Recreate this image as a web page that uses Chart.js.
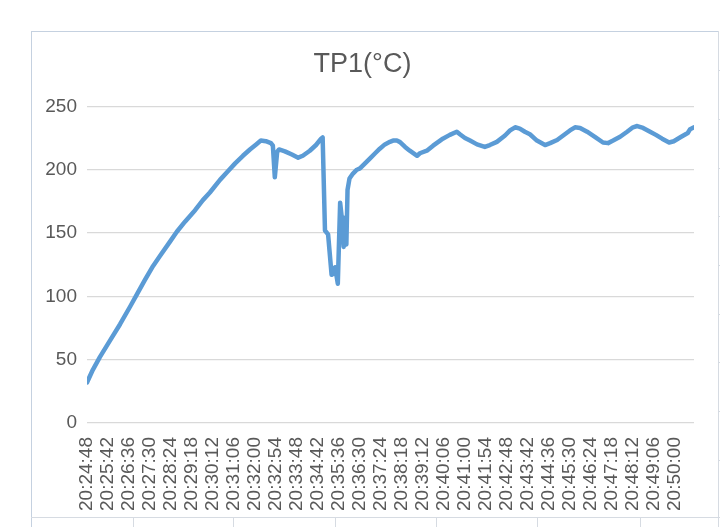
<!DOCTYPE html>
<html>
<head>
<meta charset="utf-8">
<script src="https://cdn.jsdelivr.net/npm/chart.js@4.4.1/dist/chart.umd.min.js"></script>
<style>
  html, body { margin: 0; padding: 0; background: #ffffff; }
  body { width: 720px; height: 527px; position: relative; overflow: hidden; }
  .ln { position: absolute; background: #d6dbe2; }
  #frame { position: absolute; left: 31px; top: 31px; width: 687px; height: 486px; }
</style>
</head>
<body>
<div class="ln" style="left:31px;top:31px;width:1px;height:496px;background:#c5d1e0"></div>
<div class="ln" style="left:31px;top:31px;width:688px;height:1px;background:#c5d1e0"></div>
<div class="ln" style="left:718px;top:31px;width:1px;height:496px;"></div>
<div class="ln" style="left:31px;top:517px;width:689px;height:1px;"></div>
<div class="ln" style="left:133px;top:517px;width:1px;height:10px;"></div>
<div class="ln" style="left:233px;top:517px;width:1px;height:10px;"></div>
<div class="ln" style="left:335px;top:517px;width:1px;height:10px;"></div>
<div class="ln" style="left:436px;top:517px;width:1px;height:10px;"></div>
<div class="ln" style="left:537px;top:517px;width:1px;height:10px;"></div>
<div class="ln" style="left:640px;top:517px;width:1px;height:10px;"></div>
<div class="ln" style="left:718px;top:70px;width:2px;height:1px;"></div>
<div class="ln" style="left:718px;top:119px;width:2px;height:1px;"></div>
<div class="ln" style="left:718px;top:168px;width:2px;height:1px;"></div>
<div class="ln" style="left:718px;top:216px;width:2px;height:1px;"></div>
<div class="ln" style="left:718px;top:265px;width:2px;height:1px;"></div>
<div class="ln" style="left:718px;top:314px;width:2px;height:1px;"></div>
<div class="ln" style="left:718px;top:362px;width:2px;height:1px;"></div>
<div class="ln" style="left:718px;top:411px;width:2px;height:1px;"></div>
<div class="ln" style="left:718px;top:460px;width:2px;height:1px;"></div>
<div id="frame"><canvas id="c"></canvas></div>
<script>
// Category tick labels (every 54 s)
const tickLabels = ['20:24:48','20:25:42','20:26:36','20:27:30','20:28:24','20:29:18','20:30:12','20:31:06','20:32:00','20:32:54','20:33:48','20:34:42','20:35:36','20:36:30','20:37:24','20:38:18','20:39:12','20:40:06','20:41:00','20:41:54','20:42:48','20:43:42','20:44:36','20:45:30','20:46:24','20:47:18','20:48:12','20:49:06','20:50:00'];
const tickStepSeconds = 54;
// Sample times, seconds after 20:24:48
const seconds = [0,15,33,59,85,111,129,149,170,188,213,231,252,278,298,316,342,360,381,401,419,435,447,460,473,478,483,489,494,509,527,543,555,573,589,602,606,612,620,629,634,638,645,651,656,660,663,667,670,675,684,694,702,715,728,741,753,766,779,787,797,805,818,830,849,856,874,890,908,915,933,951,959,972,985,1003,1023,1036,1054,1075,1088,1101,1113,1126,1139,1157,1178,1191,1209,1229,1242,1255,1268,1286,1306,1327,1340,1353,1371,1389,1404,1415,1430,1448,1463,1479,1497,1509,1527,1545,1551,1561];
// TP1 temperature (°C)
const temps = [32,42,52,65,78,92,102,113,124,132,143,151,159,168,176,182,192,198,205,211,216,220,223,222.5,221,219,194,214,216,214.5,212,209.5,211,215,219.5,224.5,225.5,152,149,117,118,123,110,174,160,139,162,141,184,193,197,200,201,205,209,213,216.6,220,222,223,223,221.8,218,215,211,213,215,219,223,224.5,227.5,230,228,225,223,220,218,219.5,222,227,231,233.5,232.5,230,228,223,219.5,221,223.5,228,231,233.5,233,230,226,221.5,221,223,226,230,233.5,234.5,233,230,227.5,224.5,221.5,222.5,225.8,229,232,233.5];
const yTicks = [0,50,100,150,200,250];

const textColor = '#595959';
new Chart(document.getElementById('c'), {
  type: 'line',
  data: {
    datasets: [{
      label: 'TP1(°C)',
      data: seconds.map((s, i) => ({ x: s, y: temps[i] })),
      borderColor: '#5b9bd5',
      backgroundColor: '#5b9bd5',
      borderWidth: 4.5,
      pointRadius: 0,
      tension: 0,
      borderJoinStyle: 'round',
      borderCapStyle: 'round'
    }]
  },
  options: {
    responsive: true,
    maintainAspectRatio: false,
    animation: false,
    layout: { padding: { left: 0, right: 24, top: 0, bottom: 0 } },
    plugins: {
      legend: { display: false },
      tooltip: { enabled: false },
      title: {
        display: true,
        text: 'TP1(°C)',
        color: textColor,
        font: { family: 'Liberation Sans, Arial, sans-serif', size: 27, weight: 'normal' },
        padding: { top: 17, bottom: 26 }
      }
    },
    scales: {
      x: {
        type: 'linear',
        min: 0,
        max: seconds[seconds.length - 1],
        afterBuildTicks: (s) => { s.ticks = tickLabels.map((_, i) => ({ value: i * tickStepSeconds })); },
        afterFit: (s) => { s.height = 94; },
        grid: { display: false },
        border: { display: false },
        ticks: {
          autoSkip: false,
          maxRotation: 90,
          minRotation: 90,
          padding: 6,
          color: textColor,
          font: { family: 'Liberation Sans, Arial, sans-serif', size: 19 },
          callback: (v, i) => tickLabels[i]
        }
      },
      y: {
        min: 0,
        max: 250,
        afterBuildTicks: (s) => { s.ticks = yTicks.map(v => ({ value: v })); },
        afterFit: (s) => { s.width = 56; },
        grid: { color: '#d9d9d9', lineWidth: 1.3, drawTicks: false },
        border: { display: false },
        ticks: {
          padding: 10,
          color: textColor,
          font: { family: 'Liberation Sans, Arial, sans-serif', size: 19 }
        }
      }
    }
  }
});
</script>
</body>
</html>
